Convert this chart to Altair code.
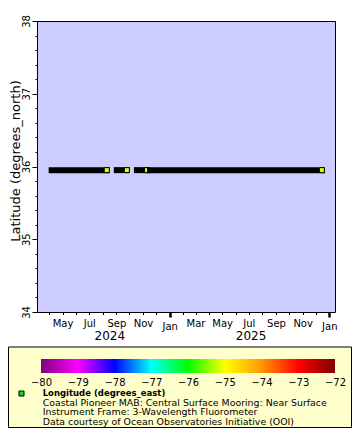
import altair as alt
import pandas as pd

# ---- data ----
lat_value = 35.95
seg_start = ["2024-04-06", "2024-09-02", "2024-10-18", "2024-11-17"]
seg_end = ["2024-08-10", "2024-09-25", "2024-11-10", "2025-12-15"]
seg_on_top = [0, 0, 0, 1]
marker_dates = ["2024-08-10", "2024-09-25", "2024-11-10", "2025-12-15"]
marker_lon = [-75.12, -75.12, -75.12, -75.12]
marker_on_top = [0, 0, 0, 1]

year_labels = ["2024", "2025"]
year_dates = ["2024-08-17", "2025-07-06"]

y_ticks = [34.0, 34.2, 34.4, 34.6, 34.8, 35.0, 35.2, 35.4, 35.6, 35.8,
           36.0, 36.2, 36.4, 36.6, 36.8, 37.0, 37.2, 37.4, 37.6, 37.8, 38.0]

cbar_values = [-80, -79, -78, -77, -76, -75, -74, -73, -72]
cbar_colors = ["#800080", "#ff00ff", "#0000ff", "#00ffff", "#00ff00",
               "#ffff00", "#ff9900", "#ff0000", "#800000"]

legend_title = "Longitude (degrees_east)"
legend_lines = ["Coastal Pioneer MAB: Central Surface Mooring: Near Surface",
                "Instrument Frame: 3-Wavelength Fluorometer",
                "Data courtesy of Ocean Observatories Initiative (OOI)"]

FONT = "DejaVu Sans"

segs = pd.DataFrame({"start": seg_start, "end": seg_end,
                     "top": seg_on_top, "lat": [lat_value] * len(seg_start)})
marks = pd.DataFrame({"date": marker_dates, "lon": marker_lon, "top": marker_on_top,
                      "lat": [lat_value] * len(marker_dates)})
years = pd.DataFrame({"label": year_labels, "date": year_dates})
cbar_df = pd.DataFrame({"lo": [cbar_values[0]], "hi": [cbar_values[-1]]})
one = pd.DataFrame({"k": [0]})

x_scale = alt.Scale(type="utc",
                    domain=[alt.DateTime(year=2024, month=3, date=3, hours=12, utc=True),
                            alt.DateTime(year=2026, month=1, date=14, utc=True)])
y_scale = alt.Scale(domain=[34, 38], nice=False, zero=False)
lon_scale = alt.Scale(domain=cbar_values, range=cbar_colors, interpolate="rgb")

is_jan = "utcmonth(datum.value) == 0"
is_major = "abs(datum.value - round(datum.value)) < 0.01"

x_axis = alt.Axis(title=None, domain=False, grid=False,
                  tickCount={"interval": "month", "step": 1},
                  labelExpr="utcmonth(datum.value) % 2 == 0 ? utcFormat(datum.value, '%b') : ''",
                  tickSize={"condition": {"test": is_jan, "value": 5}, "value": 2.5},
                  tickWidth={"condition": {"test": is_jan, "value": 2.5}, "value": 1},
                  tickColor="black", labelColor="black", labelFontSize=10, labelFont=FONT,
                  labelPadding=4, labelFlush=False, labelOverlap=False, labelBound=False)

y_axis = alt.Axis(values=y_ticks, title="Latitude (degrees_north)", domain=False, grid=False,
                  labelExpr=f"{is_major} ? format(datum.value, 'd') : ''",
                  tickSize={"condition": {"test": is_major, "value": 5}, "value": 2},
                  tickColor="black", labelColor="black", labelFontSize=10, labelFont=FONT,
                  labelAngle=270, labelAlign="center", labelBaseline="bottom",
                  labelPadding=1, labelFlush=False, labelOverlap=False,
                  titleFont=FONT, titleFontSize=13, titleFontWeight="normal",
                  titleColor="black", titleAngle=270, titleAlign="center",
                  titleBaseline="alphabetic", titleX=-17.5, titleY=139.5)


def X(field):
    return alt.X(field, scale=x_scale, axis=x_axis)


def Y(field):
    return alt.Y(field, scale=y_scale, axis=y_axis)


box = alt.Chart(one).mark_rect(fill="#ffffcc", stroke="black", strokeWidth=1).encode(
    x=alt.value(-28.5), x2=alt.value(314.5), y=alt.value(326), y2=alt.value(406.5))


def rules(flag):
    return alt.Chart(segs).transform_filter(f"datum.top == {flag}").mark_rule(
        color="black", strokeWidth=6, strokeCap="square").encode(
        x=X("start:T"), x2="end:T", y=Y("lat:Q"))


def points(flag):
    return alt.Chart(marks).transform_filter(f"datum.top == {flag}").mark_point(
        shape="square", filled=True, size=25, stroke="black", strokeWidth=1, opacity=1).encode(
        x=X("date:T"), y=Y("lat:Q"),
        fill=alt.Fill("lon:Q", scale=lon_scale, legend=None))


year_text = alt.Chart(years).mark_text(font=FONT, fontSize=12, color="black",
                                        baseline="middle", align="center").encode(
    x=X("date:T"), y=alt.value(315), text="label:N")

sample = alt.Chart(one).mark_point(shape="square", filled=True, size=25, fill="#00e600",
                                    stroke="black", strokeWidth=1, opacity=1).encode(
    x=alt.value(-15.5), y=alt.value(372.5))

title_text = alt.Chart(one).mark_text(font=FONT, fontSize=8.5, fontWeight="bold", color="black",
                                       align="left", baseline="middle").encode(
    x=alt.value(5.7), y=alt.value(372), text=alt.value(legend_title))

lines_text = alt.Chart(one).mark_text(font=FONT, fontSize=9.4, color="black", align="left",
                                       baseline="alphabetic", lineHeight=9.6).encode(
    x=alt.value(5.7), y=alt.value(384.5), text=alt.value(legend_lines))

main = alt.layer(box, rules(0), points(0), rules(1), points(1),
                 year_text, sample, title_text, lines_text)

# colour bar: its own longitude x scale; range 0..298 px, bar starts 4 px in
cbar_lo = cbar_values[0] - 4 * (cbar_values[-1] - cbar_values[0]) / 294
cbar_gradient = alt.Gradient(
    gradient="linear", x1=0, x2=1, y1=0, y2=0,
    stops=[alt.GradientStop(offset=i / (len(cbar_colors) - 1), color=c)
           for i, c in enumerate(cbar_colors)])
cbar = alt.Chart(cbar_df).mark_rect(fill=cbar_gradient).encode(
    x=alt.X("lo:Q", scale=alt.Scale(domain=[cbar_lo, cbar_values[-1]], nice=False, zero=False),
            axis=alt.Axis(orient="top", offset=-356.5, values=cbar_values, title=None,
                          domain=False, ticks=False, grid=False, labelPadding=0,
                          labelBaseline="top", labelAlign="center", zindex=2,
                          labelFont=FONT, labelFontSize=10, labelColor="black",
                          labelFlush=False, labelOverlap=False, labelBound=False)),
    x2="hi:Q", y=alt.value(338), y2=alt.value(352))

chart = alt.layer(main, cbar).resolve_scale(x="independent").properties(
    width=298, height=291,
    autosize=alt.AutoSizeParams(type="none"),
    padding={"left": 29, "top": 13, "right": 17, "bottom": 116},
).configure(background="white").configure_view(fill="#ccccff", stroke="black", strokeWidth=1)

chart.save("out.html", embed_options={"renderer": "svg", "actions": False})
